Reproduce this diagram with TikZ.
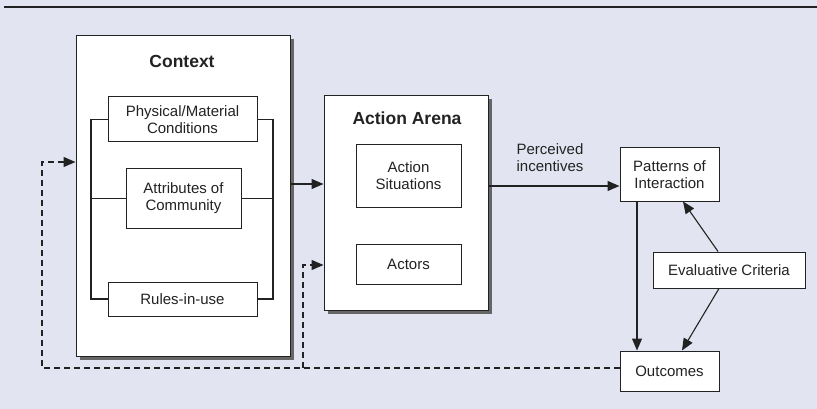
\documentclass[tikz,border=0pt]{standalone}
\usepackage{fontspec}
\setmainfont{Liberation Sans}
\usetikzlibrary{arrows.meta,shadows,calc}
\definecolor{bgblue}{RGB}{226,229,241}
\definecolor{inkgray}{RGB}{34,34,34}
\begin{document}
\begin{tikzpicture}[x=1pt, y=-1pt, font=\fontsize{15}{17}\selectfont,
    box/.style = {draw=inkgray, fill=white, line width=1pt, align=center, inner sep=0pt, text=inkgray},
    panel/.style = {box, drop shadow={shadow xshift=3.5pt, shadow yshift=-3.5pt, fill=black!60, opacity=1}},
    heading/.style = {font=\fontsize{17.5}{20}\selectfont\bfseries, text=inkgray},
    arr/.style = {draw=inkgray, line width=1.1pt, -{Triangle[length=12pt,width=10pt]}},
    link/.style = {draw=inkgray, line width=1.1pt},
    fb/.style = {arr, dash pattern=on 6pt off 4pt}]
    \fill[bgblue] (0,0) rectangle (817,409);
    \useasboundingbox (0,0) rectangle (817,409);
    \draw[line width=2.5pt, inkgray] (4,7) -- (817,7);

    % context panel
    \node[panel, minimum width=214pt, minimum height=320pt] (ctx) at (183,196) {};
    \node[heading] (ctxtitle) at (182,61) {Context};
    \node[box, minimum width=149pt, minimum height=45pt] (phys) at (182.5,119.5) {Physical/Material\\Conditions};
    \node[box, minimum width=115pt, minimum height=59pt] (attr) at (183.5,198.5) {Attributes of\\Community};
    \node[box, minimum width=149pt, minimum height=34pt] (rules) at (182.5,299) {Rules-in-use};
    \coordinate (bl) at (91,0);
    \coordinate (br) at (273,0);

    % action arena
    \node[panel, minimum width=164pt, minimum height=214pt] (arena) at (406,203) {};
    \node[heading] (arenatitle) at (407,118) {Action Arena};
    \node[box, minimum width=105pt, minimum height=62pt] (sit) at (408.5,176) {Action\\Situations};
    \node[box, minimum width=105pt, minimum height=40pt] (actors) at (408.5,264) {Actors};

    % right side
    \node[text=inkgray, align=left] (incent) at (550,158) {Perceived\\incentives};
    \node[box, minimum width=99pt, minimum height=53pt] (pat) at (669.5,174.5) {Patterns of\\Interaction};
    \node[box, minimum width=152pt, minimum height=36pt] (eval) at (729,270) {Evaluative Criteria};
    \node[box, minimum width=99pt, minimum height=40pt] (out) at (669.5,371) {Outcomes};
    \coordinate (fbcorner) at (42,368);
    \coordinate (fbsplit) at (303,368);

    \draw[link] (phys.west) -- (phys.west -| bl) -- (rules.west -| bl) -- (rules.west);
    \draw[link] (phys.east) -- (phys.east -| br) -- (rules.east -| br) -- (rules.east);
    \draw[link] (attr.west) -- (attr.west -| bl);
    \draw[link] (attr.east) -- (attr.east -| br);

    \draw[arr] ([yshift=12pt]ctx.east) -- ([yshift=12pt]ctx.east -| arena.west);
    \draw[arr] ([yshift=-11.5pt]pat.west -| arena.east) -- ([yshift=-11.5pt]pat.west);
    \draw[arr] ([xshift=-32.5pt]pat.south) -- ([xshift=-32.5pt]out.north);
    \draw[arr] ([xshift=-11pt]eval.north) -- ([xshift=13.5pt]pat.south);
    \draw[arr] ([xshift=-10pt]eval.south) -- ([xshift=12.5pt]out.north);

    \draw[fb] ([yshift=3pt]out.west) -- (fbcorner) -- ([yshift=34pt]ctx.west -| fbcorner) -- ([yshift=34pt]ctx.west);
    \draw[fb] (fbsplit) -- ([yshift=-62pt]arena.west -| fbsplit) -- ([yshift=-62pt]arena.west);
\end{tikzpicture}
\end{document}
